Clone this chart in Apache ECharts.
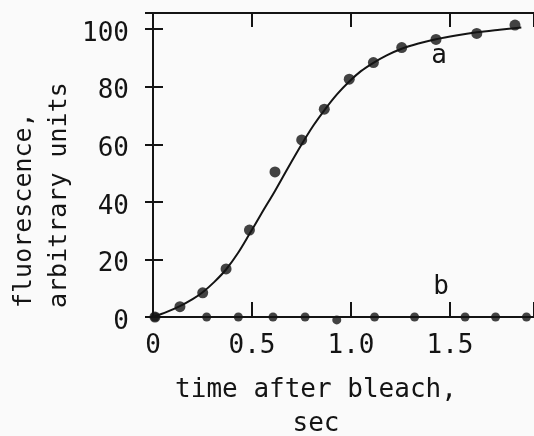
<!DOCTYPE html>
<html>
<head>
<meta charset="utf-8">
<script src="https://cdn.jsdelivr.net/npm/echarts@6/dist/echarts.min.js"></script>
<style>
html,body{margin:0;padding:0;background:#fafafa;}
#chart{width:534px;height:436px;}
</style>
</head>
<body>
<div id="chart"></div>
<script>
// Curve a: measured points
var aX = [0.01, 0.136, 0.251, 0.369, 0.487, 0.616, 0.751, 0.865, 0.991, 1.113, 1.256, 1.429, 1.635, 1.828];
var aY = [0, 3.6, 8.4, 16.7, 30.2, 50.4, 61.5, 72.2, 82.6, 88.4, 93.6, 96.4, 98.5, 101.4];
// Curve a: drawn smooth fit line
var fitX = [0, 0.07, 0.136, 0.2, 0.251, 0.31, 0.369, 0.43, 0.487, 0.55, 0.616, 0.68, 0.751, 0.81, 0.865, 0.93, 0.991, 1.05, 1.113, 1.18, 1.256, 1.34, 1.429, 1.53, 1.635, 1.75, 1.86];
var fitY = [0, 1.8, 3.8, 6.2, 8.6, 12.2, 16.5, 22.3, 28.8, 36.2, 43.8, 51.6, 60.0, 66.5, 71.8, 77.4, 81.8, 85.4, 88.3, 90.9, 93.2, 95.0, 96.5, 97.8, 98.9, 99.8, 100.6];
// Curve b: measured points
var bX = [0.01, 0.271, 0.431, 0.606, 0.768, 0.928, 1.119, 1.321, 1.576, 1.730, 1.886];
var bY = [0, 0, 0, 0, 0, -1, 0, 0, 0, 0, 0];
// Curve b: drawn line (flat at zero)
var bLineX = [0, 1.924];
var bLineY = [0, 0];
// Axis ticks
var xTicks = [0, 0.5, 1.0, 1.5];
var xTickLabels = ['0', '0.5', '1.0', '1.5'];
var yTicks = [0, 20, 40, 60, 80, 100];
var yTickLabels = ['0', '20', '40', '60', '80', '100'];
var xTitle = 'time after bleach,\nsec';
var yTitle = 'fluorescence,\narbitrary units';
var labelA = 'a', labelB = 'b';

function zip(xs, ys){ return xs.map(function(x,i){ return [x, ys[i]]; }); }
function fmt(ticks, labels, rich){
  return function(v){
    for (var i=0;i<ticks.length;i++){
      if (Math.abs(ticks[i]-v) < 1e-6) return rich ? '{t|' + labels[i] + '}' : labels[i];
    }
    return '';
  };
}

var ink = '#141414';
var font = 'DejaVu Sans Mono';
var chart = echarts.init(document.getElementById('chart'), null, {renderer:'canvas'});
chart.setOption({
  backgroundColor: '#fafafa',
  animation: false,
  grid: {left:153, right:0, top:13, bottom:119, containLabel:false, outerBoundsMode:'none'},
  xAxis: [{
    type:'value', min:0, max:1.924, interval:0.5, position:'bottom',
    axisLine:{show:true, onZero:false, lineStyle:{color:ink, width:2}},
    axisTick:{show:true, inside:true, length:15, lineStyle:{color:ink, width:2}},
    splitLine:{show:false},
    axisLabel:{show:true, margin:16, color:ink, fontFamily:font, fontSize:26, formatter: fmt(xTicks, xTickLabels, false)}
  },{
    type:'value', min:0, max:1.924, interval:0.5, position:'top',
    axisLine:{show:true, onZero:false, lineStyle:{color:ink, width:2}},
    axisTick:{show:true, inside:true, length:14, lineStyle:{color:ink, width:2}},
    splitLine:{show:false}, axisLabel:{show:false}
  }],
  yAxis: [{
    type:'value', min:0, max:105.6, interval:20, position:'left',
    axisLine:{show:true, onZero:false, lineStyle:{color:ink, width:2}},
    axisTick:{show:true, inside:true, length:10, lineStyle:{color:ink, width:2}},
    splitLine:{show:false},
    axisLabel:{show:true, margin:24, color:ink, fontFamily:font, fontSize:26, formatter: fmt(yTicks, yTickLabels, true),
      rich:{t:{color:ink, fontFamily:font, fontSize:26, padding:[10,0,0,0]}}}
  },{
    type:'value', min:0, max:105.6, interval:20, position:'right',
    axisLine:{show:false},
    axisTick:{show:true, inside:true, length:8, lineStyle:{color:ink, width:2}},
    splitLine:{show:false}, axisLabel:{show:false}
  }],
  series: [{
    name:'fit a', type:'line', data: zip(fitX, fitY), smooth:0.3, showSymbol:false, clip:false,
    lineStyle:{color:ink, width:2}, z:2
  },{
    name:'a', type:'scatter', data: zip(aX, aY), symbol:'circle', symbolSize:11, clip:false,
    itemStyle:{color:ink}, z:3
  },{
    name:'b line', type:'line', data: zip(bLineX, bLineY), showSymbol:false, clip:false,
    lineStyle:{color:ink, width:2}, z:2
  },{
    name:'b', type:'scatter', data: zip(bX, bY), symbol:'circle', symbolSize:9, clip:false,
    itemStyle:{color:ink}, z:3
  }],
  graphic: [
    {type:'text', x:316, y:407, style:{text:xTitle, font:'26px "DejaVu Sans Mono"', fill:ink, align:'center', verticalAlign:'middle', lineHeight:34}},
    {type:'text', x:42, y:308, rotation:Math.PI/2, style:{text:yTitle, font:'25px "DejaVu Sans Mono"', fill:ink, align:'left', verticalAlign:'middle', lineHeight:35}},
    {type:'text', x:439, y:56, style:{text:labelA, font:'26px "DejaVu Sans Mono"', fill:ink, align:'center', verticalAlign:'middle'}},
    {type:'text', x:441, y:287, style:{text:labelB, font:'26px "DejaVu Sans Mono"', fill:ink, align:'center', verticalAlign:'middle'}}
  ]
});
</script>
</body>
</html>
